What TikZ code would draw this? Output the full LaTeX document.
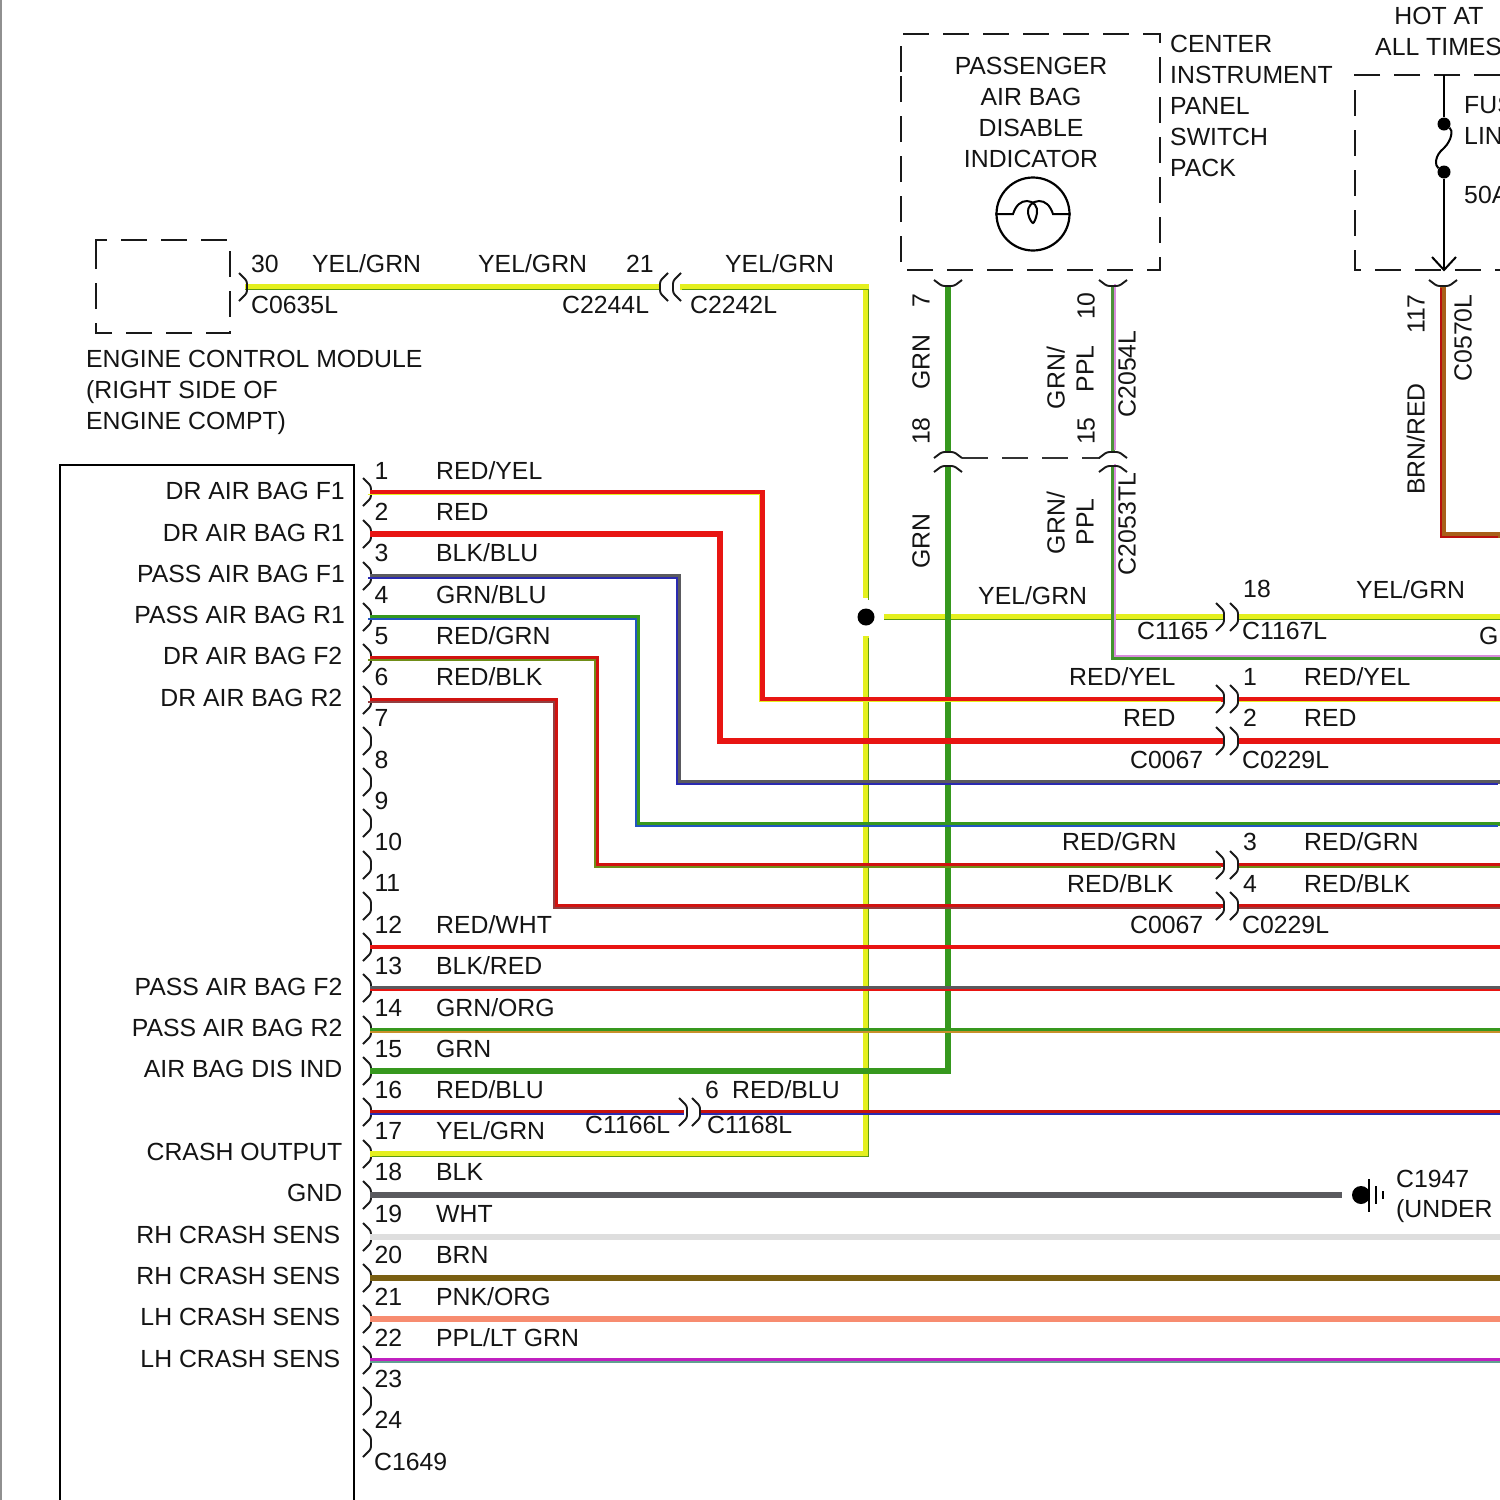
\documentclass[tikz,border=0pt]{standalone}
\usepackage{fontspec}
\setmainfont{Liberation Sans}
\definecolor{cyel}{HTML}{E4F01E}
\definecolor{cyg}{HTML}{5C9A12}
\definecolor{cred}{HTML}{E81512}
\definecolor{cgrn}{HTML}{36981E}
\definecolor{cdk}{HTML}{5A5A5E}
\definecolor{cblu}{HTML}{2A2AB0}
\definecolor{cppl}{HTML}{D88CDC}
\definecolor{corg}{HTML}{C8902A}
\definecolor{cbrn}{HTML}{7A5F12}
\definecolor{cbr}{HTML}{A8601A}
\definecolor{cpk}{HTML}{F78C70}
\definecolor{cmg}{HTML}{C020C0}
\definecolor{cteal}{HTML}{60A090}
\definecolor{cwht}{HTML}{DEDEDE}
\definecolor{cgy}{HTML}{909090}
\tikzset{
 lbl/.style={font=\fontsize{24.8}{25}\selectfont,inner sep=0pt,text=black!92},
 conn/.style={draw=black!90,line width=1.9pt,rounded corners=2.5pt},
 dashbox/.style={draw=black!90,line width=2pt,dash pattern=on 26pt off 14pt},
 solidline/.style={draw=black,line width=2pt},
 dotmark/.style={circle,fill=black,inner sep=0pt,minimum size=#1}
}
\newcounter{lab}
\newcommand\LW[3]{\stepcounter{lab}\node[lbl,anchor=base west] (lab\thelab) at (#1,#2+9.2) {#3};}
\newcommand\LE[3]{\stepcounter{lab}\node[lbl,anchor=base east] (lab\thelab) at (#1,#2+9.2) {#3};}
\newcommand\LC[3]{\stepcounter{lab}\node[lbl,anchor=base] (lab\thelab) at (#1,#2+9.2) {#3};}
\newcommand\LR[3]{\stepcounter{lab}\node[lbl,anchor=base,rotate=90] (lab\thelab) at (#1+8.5,#2) {#3};}
% main, stripe, width, dx, dy(up positive), path
\newcommand\wire[6]{\draw[line width=#3pt,color=#1,line join=miter] #6;
 \draw[line width=1.7pt,color=#2,line join=miter,transform canvas={xshift=#4pt,yshift=#5pt}] #6;}
\newcommand\brR[2]{\draw[conn] (#1-8,#2-14) -- (#1,#2-6) -- (#1,#2+6) -- (#1-8,#2+14);}
\newcommand\brL[2]{\draw[conn] (#1+8,#2-14) -- (#1,#2-6) -- (#1,#2+6) -- (#1+8,#2+14);}
\newcommand\brU[2]{\draw[conn] (#1-14,#2+6) -- (#1-6,#2) -- (#1+6,#2) -- (#1+14,#2+6);}
\newcommand\brD[2]{\draw[conn] (#1-14,#2-6) -- (#1-6,#2) -- (#1+6,#2) -- (#1+14,#2-6);}
\begin{document}
\begin{tikzpicture}[x=1pt,y=-1pt]
\useasboundingbox[fill=white] (0,0) rectangle (1500,1500);
\draw[cgy,line width=2pt] (1,0) -- (1,1500);

% boxes
\draw[solidline] (60,1500) -- (60,465) -- (354,465) -- (354,1500);
\draw[dashbox] (96,255) -- (96,240) -- (230,240) -- (230,333) -- (96,333) -- (96,255);
\draw[dashbox] (901,72) -- (901,34) -- (1160,34) -- (1160,270) -- (901,270) -- (901,72);
\draw[dashbox] (1500,75) -- (1355,75) -- (1355,270) -- (1500,270);
\draw[dash pattern=on 26pt off 14pt,draw=black!80,line width=1.1pt] (962,458) -- (1100,458);

% pin coordinates
\foreach \n/\y in {1/492,2/534,3/576,4/617,5/658,6/700,7/741,8/782,9/823,10/865,11/906,12/947,13/988,14/1030,15/1071,16/1112,17/1154,18/1195,19/1237,20/1278,21/1319,22/1360,23/1401,24/1443}{
  \coordinate (pin\n) at (370,\y);
  \brR{371}{\y}
}

% yellow/green
\coordinate (ya) at (245,287);
\coordinate (yb) at (660,287);
\coordinate (yc) at (680,287);
\coordinate (yd) at (866,598);
\coordinate (ye) at (866,636);
\coordinate (yf) at (866,1154);
\coordinate (yg) at (884,617);
\coordinate (yh) at (1223,617);
\coordinate (yi) at (1238,617);
\coordinate (yj) at (1500,617);
\wire{cyel}{cyg}{6}{0}{-2.6}{(ya) -- (yb)}
\wire{cyel}{cyg}{6}{2.4}{-2.4}{(yc) -- (866,287) -- (yd)}
\wire{cyel}{cyg}{6}{2.4}{-2.4}{(ye) -- (yf) -- (pin17)}
\wire{cyel}{cyg}{6}{0}{-2.6}{(yg) -- (yh)}
\wire{cyel}{cyg}{6}{0}{-2.6}{(yi) -- (yj)}
\node[dotmark=17pt] (junction) at (866,617) {};

% green verticals
\coordinate (ga) at (948,286);
\coordinate (gb) at (948,452);
\coordinate (gc) at (948,466);
\coordinate (gd) at (948,1071);
\draw[cgrn,line width=6pt] (ga) -- (gb);
\draw[cgrn,line width=6pt,line join=miter] (gc) -- (gd) -- (pin15);
\coordinate (pa) at (1113,286);
\coordinate (pb) at (1113,452);
\coordinate (pc) at (1113,466);
\coordinate (pd) at (1113,658);
\coordinate (pe) at (1500,658);
\wire{cgrn!70!gray}{cppl}{4.6}{2.1}{2.1}{(pa) -- (pb)}
\wire{cgrn!85!gray}{cppl}{4.6}{2.1}{2.1}{(pc) -- (pd) -- (pe)}

% brown/red
\coordinate (ba) at (1443,286);
\coordinate (bb) at (1443,535);
\coordinate (bc) at (1500,535);
\wire{cbr}{cred!80!black}{5.5}{-2.2}{-2.2}{(ba) -- (bb) -- (bc)}

% signal wires
\coordinate (k1) at (762,699); \coordinate (k1a) at (1223,699); \coordinate (k1b) at (1238,699); \coordinate (k1c) at (1500,699);
\wire{cred}{cyel}{5}{-2.4}{-2.4}{(pin1) -- (762,492) -- (k1) -- (k1a)}
\wire{cred}{cyel}{5}{0}{-2.4}{(k1b) -- (k1c)}
\coordinate (k2) at (720,741); \coordinate (k2a) at (1223,741); \coordinate (k2b) at (1238,741); \coordinate (k2c) at (1500,741);
\draw[cred,line width=6pt,line join=miter] (pin2) -- (720,534) -- (k2) -- (k2a);
\draw[cred,line width=6pt] (k2b) -- (k2c);
\coordinate (k3) at (679,782); \coordinate (k3c) at (1500,782);
\wire{cdk}{cblu}{4.2}{-2}{-2}{(pin3) -- (679,576) -- (k3) -- (k3c)}
\coordinate (k4) at (638,824); \coordinate (k4c) at (1500,824);
\wire{cgrn}{cblu!80!cyan}{4.2}{-2}{-2}{(pin4) -- (638,617) -- (k4) -- (k4c)}
\coordinate (k5) at (597,865); \coordinate (k5a) at (1223,865); \coordinate (k5b) at (1238,865); \coordinate (k5c) at (1500,865);
\wire{cred!90!black}{corg!70!green!80!black}{4.6}{-2.1}{-2.1}{(pin5) -- (597,658) -- (k5) -- (k5a)}
\wire{cred!90!black}{corg!70!green!80!black}{4.6}{0}{-2.1}{(k5b) -- (k5c)}
\coordinate (k6) at (556,906); \coordinate (k6a) at (1223,906); \coordinate (k6b) at (1238,906); \coordinate (k6c) at (1500,906);
\wire{cred!90!black}{cdk!60!cred}{4.6}{-2.1}{-2.1}{(pin6) -- (556,700) -- (k6) -- (k6a)}
\wire{cred!90!black}{cdk!60!cred}{4.6}{0}{-2.1}{(k6b) -- (k6c)}
\coordinate (e12) at (1500,947); \draw[cred,line width=3.6pt] (pin12) -- (e12);
\coordinate (e13) at (1500,988); \wire{cdk}{cred}{4.2}{0}{-2.2}{(pin13) -- (e13)}
\coordinate (e14) at (1500,1030); \wire{cgrn}{corg}{4.2}{0}{-2.2}{(pin14) -- (e14)}
\coordinate (e16a) at (684,1112); \coordinate (e16b) at (700,1112); \coordinate (e16) at (1500,1112);
\wire{cred!85!black}{cblu}{4.6}{0}{-2.3}{(pin16) -- (e16a)}
\wire{cred!85!black}{cblu}{4.6}{0}{-2.3}{(e16b) -- (e16)}
\coordinate (e18) at (1342,1195); \draw[cdk,line width=5.2pt] (pin18) -- (e18);
\coordinate (e19) at (1500,1237); \draw[cwht,line width=5.2pt] (pin19) -- (e19);
\coordinate (e20) at (1500,1278); \draw[cbrn,line width=6pt] (pin20) -- (e20);
\coordinate (e21) at (1500,1319); \draw[cpk,line width=5.5pt] (pin21) -- (e21);
\coordinate (e22) at (1500,1360); \wire{cmg}{cteal}{4}{0}{-2.2}{(pin22) -- (e22)}

% connector brackets
\brR{247}{287}
\brL{660}{287} \brL{673}{287}
\foreach \y in {617,699,741,865,906}{ \brR{1224}{\y} \brR{1238}{\y} }
\brR{687}{1112} \brR{700}{1112}
\brD{948}{286} \brU{948}{452} \brU{948}{466}
\brD{1113}{286} \brU{1113}{452} \brU{1113}{466}
\brD{1443}{286}

% lamp
\node[circle,draw=black,line width=2.2pt,inner sep=0pt,minimum size=73pt,fill=none] (lamp) at (1033,214) {};
\draw[black,line width=2pt] (lamp.west) -- (1013,214) .. controls (1016,205) and (1021,201) .. (1027,201) .. controls (1034,201) and (1038,207) .. (1037,213) .. controls (1036,219) and (1034,223) .. (1033,223) .. controls (1032,223) and (1029,219) .. (1028,213) .. controls (1027,207) and (1032,201) .. (1039,201) .. controls (1045,201) and (1050,205) .. (1053,214) -- (lamp.east);

% fuse and hot feed
\coordinate (fa) at (1444,75);
\coordinate (fd) at (1444,270);
\node[dotmark=13pt] (fb) at (1444,124) {};
\node[dotmark=13pt] (fc) at (1444,172) {};
\draw[solidline] (fa) -- (fb);
\draw[solidline] (fb) .. controls (1453,130) and (1452,140) .. (1444,148) .. controls (1434,156) and (1435,166) .. (fc);
\draw[solidline] (fc) -- (fd);
\draw[solidline] (1432,257) -- (fd) -- (1456,257);

% ground
\node[dotmark=18pt] (gnd) at (1361,1195) {};
\draw[black,line width=1.8pt] (1369,1179) -- (1369,1212);
\draw[black,line width=1.8pt] (1376,1186) -- (1376,1204);
\draw[black,line width=1.8pt] (1383,1191) -- (1383,1199);

% pin numbers
\foreach \n/\y in {1/470,2/511,3/552,4/594,5/635,6/676,7/717,8/759,9/800,10/841,11/882,12/924,13/965,14/1007,15/1048,16/1089,17/1130,18/1171,19/1213,20/1254,21/1296,22/1337,23/1378,24/1419}{
  \node[lbl,anchor=base west] (num\n) at (374.3,\y+9.2) {\n};
}
\LW{374}{1461}{C1649}

% wire names
\LW{436}{470}{RED/YEL} \LW{436}{511}{RED} \LW{436}{552}{BLK/BLU} \LW{436}{594}{GRN/BLU}
\LW{436}{635}{RED/GRN} \LW{436}{676}{RED/BLK} \LW{436}{924}{RED/WHT} \LW{436}{965}{BLK/RED}
\LW{436}{1007}{GRN/ORG} \LW{436}{1048}{GRN} \LW{436}{1089}{RED/BLU} \LW{436}{1130}{YEL/GRN}
\LW{436}{1171}{BLK} \LW{436}{1213}{WHT} \LW{436}{1254}{BRN} \LW{436}{1296}{PNK/ORG} \LW{436}{1337}{PPL/LT GRN}

% module labels
\LE{345}{490}{DR AIR BAG F1} \LE{345}{532}{DR AIR BAG R1} \LE{345}{573}{PASS AIR BAG F1}
\LE{345}{614}{PASS AIR BAG R1} \LE{342.5}{655}{DR AIR BAG F2} \LE{342.5}{697}{DR AIR BAG R2}
\LE{342.5}{986}{PASS AIR BAG F2} \LE{342.5}{1027}{PASS AIR BAG R2} \LE{342.5}{1068}{AIR BAG DIS IND}
\LE{342.5}{1151}{CRASH OUTPUT} \LE{342.5}{1192}{GND} \LE{340.5}{1234}{RH CRASH SENS}
\LE{340.5}{1275}{RH CRASH SENS} \LE{340.5}{1316}{LH CRASH SENS} \LE{340.5}{1358}{LH CRASH SENS}

% top row
\LW{251}{263}{30} \LW{312}{263}{YEL/GRN} \LW{478}{263}{YEL/GRN} \LW{626}{263}{21} \LW{725}{263}{YEL/GRN}
\LW{251}{304}{C0635L} \LW{562}{304}{C2244L} \LW{690}{304}{C2242L}
\LW{86}{358}{ENGINE CONTROL MODULE} \LW{86}{389}{(RIGHT SIDE OF} \LW{86}{420}{ENGINE COMPT)}

% top right
\LC{1031}{65}{PASSENGER} \LC{1031}{96}{AIR BAG} \LC{1031}{127}{DISABLE} \LC{1031}{158}{INDICATOR}
\LW{1170}{43}{CENTER} \LW{1170}{74}{INSTRUMENT} \LW{1170}{105}{PANEL} \LW{1170}{136}{SWITCH} \LW{1170}{167}{PACK}
\LC{1439}{15}{HOT AT} \LW{1375}{46}{ALL TIMES}
\LW{1464}{104}{FUS} \LW{1464}{135}{LIN} \LW{1464}{194}{50A}

% rotated
\LR{921}{301}{7} \LR{921}{362}{GRN} \LR{921}{431}{18} \LR{921}{541}{GRN}
\LR{1086}{306}{10} \LR{1056}{378}{GRN/} \LR{1085}{369}{PPL} \LR{1086}{431}{15}
\LR{1127}{374}{C2054L} \LR{1127}{524}{C2053TL} \LR{1056}{523}{GRN/} \LR{1085}{522}{PPL}
\LR{1416}{314}{117} \LR{1416}{439}{BRN/RED} \LR{1463}{338}{C0570L}

% middle
\LW{978}{595}{YEL/GRN} \LW{1137}{630}{C1165} \LW{1243}{588}{18} \LW{1356}{589}{YEL/GRN} \LW{1242}{630}{C1167L} \LW{1479}{635}{G}
\LW{1069}{676}{RED/YEL} \LW{1243}{676}{1} \LW{1304}{676}{RED/YEL}
\LW{1123}{717}{RED} \LW{1243}{717}{2} \LW{1304}{717}{RED}
\LW{1130}{759}{C0067} \LW{1242}{759}{C0229L}
\LW{1062}{841}{RED/GRN} \LW{1243}{841}{3} \LW{1304}{841}{RED/GRN}
\LW{1067}{883}{RED/BLK} \LW{1243}{883}{4} \LW{1304}{883}{RED/BLK}
\LW{1130}{924}{C0067} \LW{1242}{924}{C0229L}
\LW{585}{1124}{C1166L} \LW{705}{1089}{6} \LW{732}{1089}{RED/BLU} \LW{707}{1124}{C1168L}
\LW{1396}{1178}{C1947} \LW{1396}{1208}{(UNDER}
\end{tikzpicture}
\end{document}
